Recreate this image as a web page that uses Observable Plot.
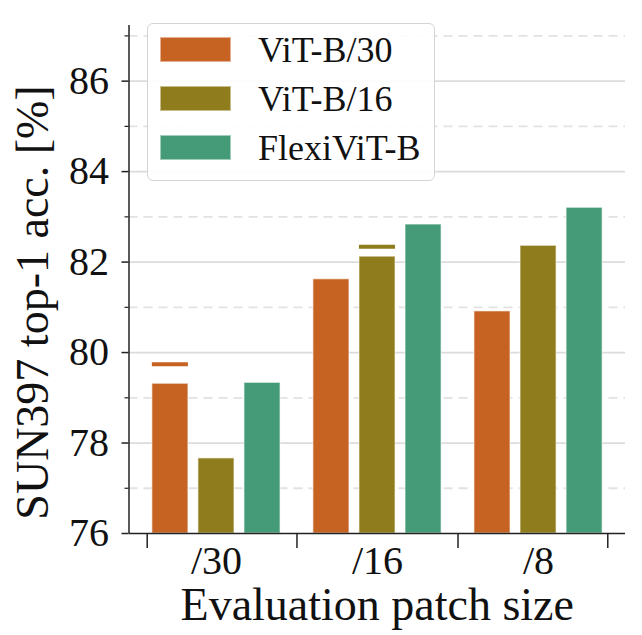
<!DOCTYPE html>
<html>
<head>
<meta charset="utf-8">
<script src="https://cdn.jsdelivr.net/npm/d3@7"></script>
<script src="https://cdn.jsdelivr.net/npm/@observablehq/plot@0.6"></script>
<style>
  html, body { margin: 0; padding: 0; background: #fff; }
  #wrap { position: relative; width: 642px; height: 635px; font-family: "Liberation Serif", serif; }
  #legend { position: absolute; left: 147px; top: 23px; width: 286px; height: 156px;
    border: 1.5px solid #d4d4d4; border-radius: 6px; background: rgba(255,255,255,0.9); box-sizing: content-box; }
  .item { position: absolute; left: 12px; height: 25px; display: flex; align-items: center; }
  .sw { width: 71px; height: 25px; box-sizing: border-box; border: 1px solid rgba(255,255,255,0.5); }
  .lab { position: absolute; left: 98px; white-space: nowrap; font-size: 36px; color: #111; line-height: 25px; top: 1px; }
</style>
</head>
<body>
<div id="wrap"></div>
<script>
// ---- data ----
const groups = ["/30", "/16", "/8"];
const series = ["ViT-B/30", "ViT-B/16", "FlexiViT-B"];
const colors = ["#c66322", "#8f7d1d", "#459b77"];
const vitB30 = [79.31, 81.62, 80.91];
const vitB16 = [77.66, 82.12, 82.36];
const flexiB = [79.33, 82.83, 83.20];
const markerSeries = ["ViT-B/30", "ViT-B/16"];
const markerGroups = ["/30", "/16"];
const markerValues = [79.74, 82.34];
const yMajor = [76, 78, 80, 82, 84, 86];
const yMinor = [77, 79, 81, 83, 85, 87];
const xBoundaryTicks = [-0.43, 0.5, 1.5, 2.43];

// ---- layout constants ----
const xDomain = [-0.543, 2.54];
const yDomain = [76, 87.23];
const barOffset = 0.286;
const barWidth = 0.224;
const font = "Liberation Serif";

const valuesBySeries = [vitB30, vitB16, flexiB];
const bars = [];
series.forEach((s, si) => groups.forEach((g, gi) => {
  bars.push({series: s, group: g, gi, si, value: valuesBySeries[si][gi]});
}));
const markers = markerValues.map((v, i) => {
  const si = series.indexOf(markerSeries[i]);
  const gi = groups.indexOf(markerGroups[i]);
  return {series: markerSeries[i], gi, si, value: v};
});
const x1 = d => d.gi + (d.si - 1) * barOffset - barWidth / 2;
const x2 = d => d.gi + (d.si - 1) * barOffset + barWidth / 2;

const plot = Plot.plot({
  width: 642,
  height: 635,
  marginLeft: 128.5,
  marginRight: 17,
  marginTop: 25,
  marginBottom: 102,
  style: {fontFamily: font, background: "white"},
  x: {domain: xDomain, axis: null},
  y: {domain: yDomain, axis: null},
  color: {domain: series, range: colors},
  marks: [
    Plot.gridY(yMajor.filter(v => v > yDomain[0]), {stroke: "#dcdcdc", strokeOpacity: 1, strokeWidth: 1.8}),
    Plot.gridY(yMinor, {stroke: "#e2e2e2", strokeOpacity: 1, strokeWidth: 1.8, strokeDasharray: "9,6"}),
    Plot.rectY(bars, {x1, x2, y1: yDomain[0], y2: "value", fill: "series", stroke: "white", strokeOpacity: 0.55, strokeWidth: 1.2}),
    Plot.ruleY(markers, {x1, x2, y: "value", stroke: "white", strokeOpacity: 0.6, strokeWidth: 6}),
    Plot.ruleY(markers, {x1, x2, y: "value", stroke: "series", strokeWidth: 4}),
    Plot.ruleX([xDomain[0]], {y1: yDomain[0], y2: yDomain[1], stroke: "#222", strokeWidth: 1.5}),
    Plot.ruleY([yDomain[0]], {stroke: "#222", strokeWidth: 1.5}),
    Plot.axisY(yMajor, {tickSize: 7, tickPadding: 13, fontSize: 40, stroke: "#222", strokeWidth: 1.5, fill: "#111", label: null}),
    Plot.axisY(yMinor, {tickSize: 4, tickFormat: () => "", stroke: "#222", strokeWidth: 1.2, label: null}),
    Plot.axisX(xBoundaryTicks, {tickSize: 15, tickFormat: () => "", stroke: "#222", strokeWidth: 1.5, label: null}),
    Plot.axisX([0, 1, 2], {tickSize: 0, tickPadding: 12, tickFormat: i => groups[i], fontSize: 40, fill: "#111", label: null}),
    Plot.text(["Evaluation patch size"], {frameAnchor: "bottom", dy: 86, fontSize: 46, fill: "#111"}),
    Plot.text(["SUN397 top-1 acc. [%]"], {frameAnchor: "left", textAnchor: "middle", dx: -96, dy: 23, rotate: -90, fontSize: 46, fill: "#111"})
  ]
});
const wrap = document.getElementById("wrap");
wrap.appendChild(plot);

// legend
const legend = document.createElement("div");
legend.id = "legend";
series.forEach((s, i) => {
  const item = document.createElement("div");
  item.className = "item";
  item.style.top = (13 + i * 49) + "px";
  const sw = document.createElement("div");
  sw.className = "sw";
  sw.style.background = colors[i];
  const lab = document.createElement("div");
  lab.className = "lab";
  lab.textContent = s;
  item.appendChild(sw);
  item.appendChild(lab);
  legend.appendChild(item);
});
wrap.appendChild(legend);
</script>
</body>
</html>
